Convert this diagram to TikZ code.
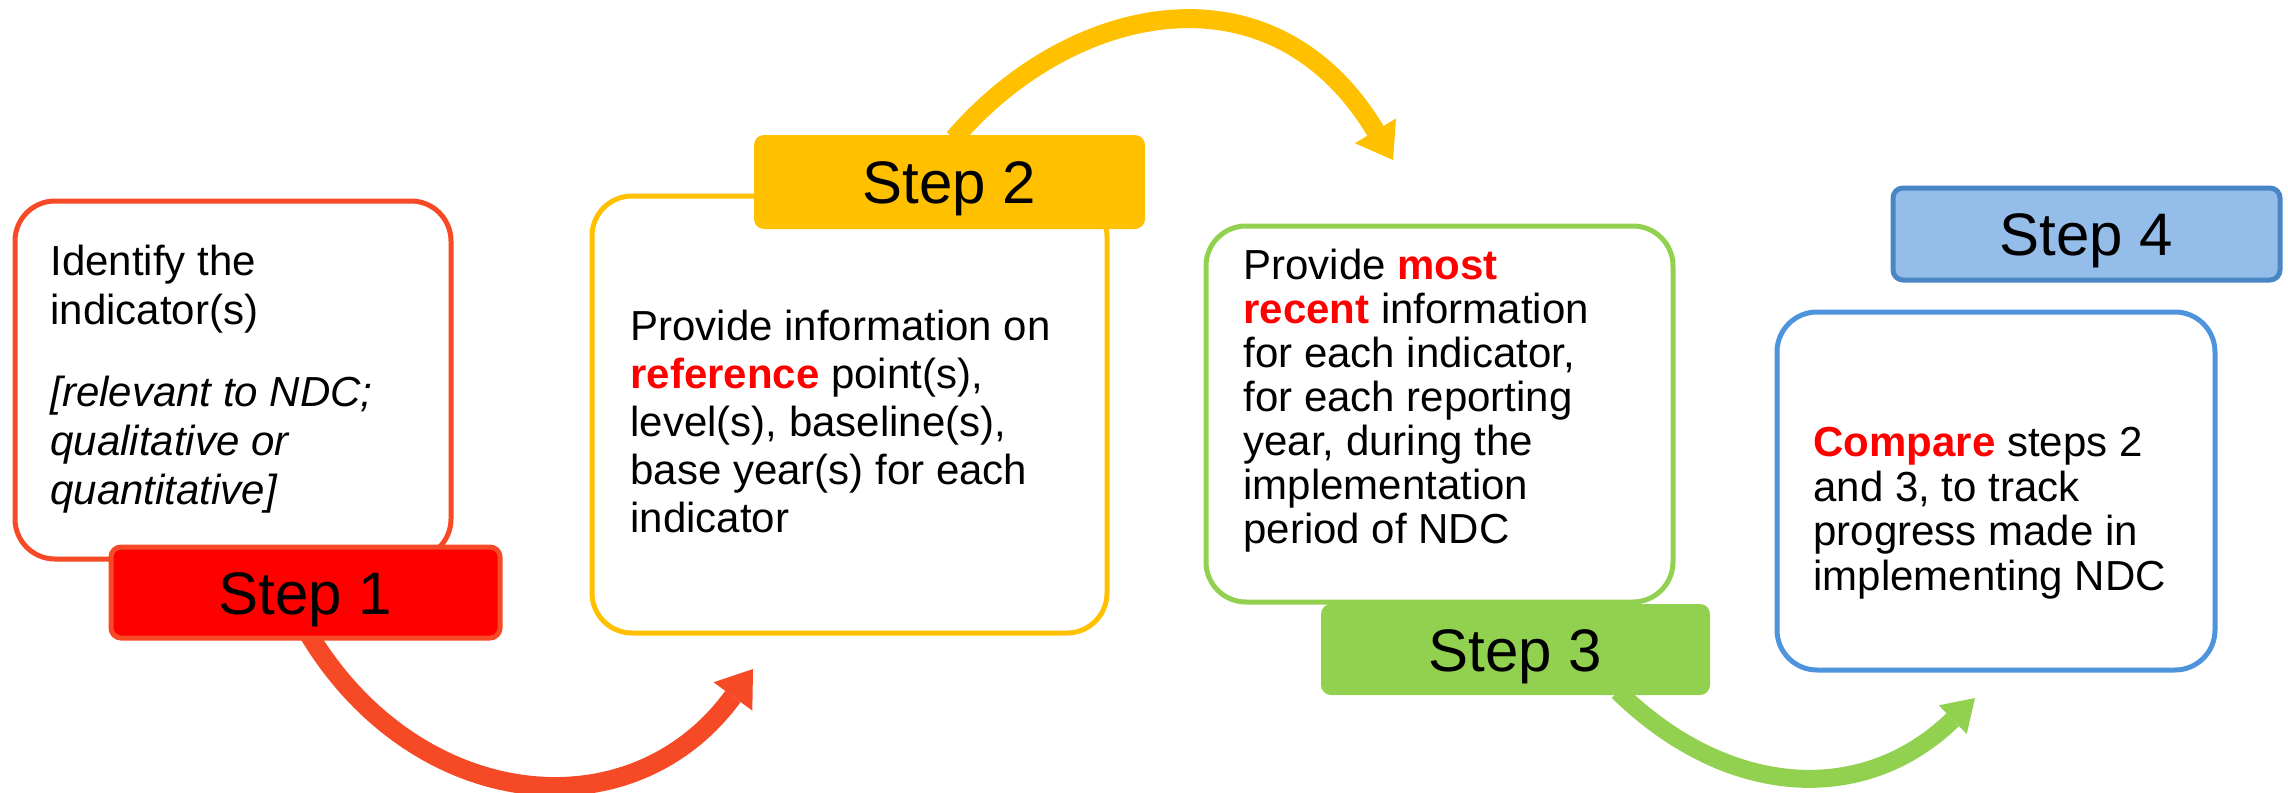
\documentclass[tikz,border=0pt]{standalone}
\usepackage{fontspec}
\setmainfont{Liberation Sans}
\usetikzlibrary{arrows.meta,backgrounds,calc}
\definecolor{cRedO}{HTML}{F64A26}
\definecolor{cRed}{HTML}{FF0000}
\definecolor{cYel}{HTML}{FFC000}
\definecolor{cGrn}{HTML}{92D050}
\definecolor{cBlueF}{HTML}{95BDE9}
\definecolor{cBlueD}{HTML}{4A86C6}
\definecolor{cBlue}{HTML}{4E94DC}
\begin{document}
\begin{tikzpicture}[x=0.5pt,y=-0.5pt,
  box/.style={draw, line width=2.5pt, rounded corners=20pt, fill=white, inner sep=0pt},
  lab/.style={rounded corners=5pt, line width=2.5pt, inner sep=0pt,
    font=\fontsize{30}{36}\selectfont, text height=21.5pt, text depth=0pt},
  body/.style={align=left, anchor=base west, inner sep=0pt},
  arr/.style={line width=9.5pt, -{Triangle[length=17pt,width=24pt,line width=0pt]}},
  arrsm/.style={line width=9pt, -{Triangle[length=15.5pt,width=20pt,line width=0pt]}}
]
\useasboundingbox (0,0) rectangle (2288,793);
% boxes
\node[box, draw=cRedO, minimum width=218pt, minimum height=179pt] (b1) at (233,380) {};
\node[box, draw=cYel, minimum width=257.5pt, minimum height=218.5pt] (b2) at (849.5,414.5) {};
\node[box, draw=cGrn, minimum width=233.5pt, minimum height=188pt] (b3) at (1439.5,414) {};
\node[box, draw=cBlue, minimum width=219pt, minimum height=179pt] (b4) at (1996,491) {};
% step labels
\node[lab, draw=cRedO, fill=cRed, minimum width=194.5pt, minimum height=45.5pt] (s1) at (305.5,592.5) {Step 1};
\node[lab, fill=cYel, minimum width=195.5pt, minimum height=47pt] (s2) at (949.5,182) {Step 2};
\node[lab, fill=cGrn, minimum width=194.5pt, minimum height=45.5pt] (s3) at (1515.5,649.5) {Step 3};
\node[lab, draw=cBlueD, fill=cBlueF, minimum width=193.5pt, minimum height=46pt] (s4) at (2086.5,234) {Step 4};
% texts (anchored at the baseline of the last line)
\node[body, font=\fontsize{21}{24.5}\selectfont] (b1txt) at (50,504)
  {Identify the\\indicator(s)\\[16.5pt]\textit{[relevant to NDC;}\\\textit{qualitative or}\\\textit{quantitative]}};
\node[body, font=\fontsize{21}{24}\selectfont] (b2txt) at (630,532)
  {Provide information on\\\textcolor{cRed}{\textbf{reference}} point(s),\\level(s), baseline(s),\\base year(s) for each\\indicator};
\node[body, font=\fontsize{21}{22}\selectfont] (b3txt) at (1243,543)
  {Provide \textcolor{cRed}{\textbf{most}}\\\textcolor{cRed}{\textbf{recent}} information\\for each indicator,\\for each reporting\\year, during the\\implementation\\period of NDC};
\node[body, font=\fontsize{21}{22.2}\selectfont] (b4txt) at (1813,590)
  {\textcolor{cRed}{\textbf{Compare}} steps 2\\and 3, to track\\progress made in\\implementing NDC};
% arrow ends
\coordinate (t1) at (753,669);
\coordinate (t2) at (1393,160);
\coordinate (t3) at (1975,698);
\begin{scope}[on background layer]
\draw[arr, cRedO] ($(s1.south)+(3.5,-6)$) .. controls (416,812) and (631,836) .. (t1);
\draw[arr, cYel] ($(s2.north)+(4.5,6)$) .. controls (1070,3) and (1272,-41) .. (t2);
\draw[arrsm, cGrn] ($(s3.south)+(102.5,-6)$) .. controls (1728,799) and (1864,806) .. (t3);
\end{scope}
\end{tikzpicture}
\end{document}
